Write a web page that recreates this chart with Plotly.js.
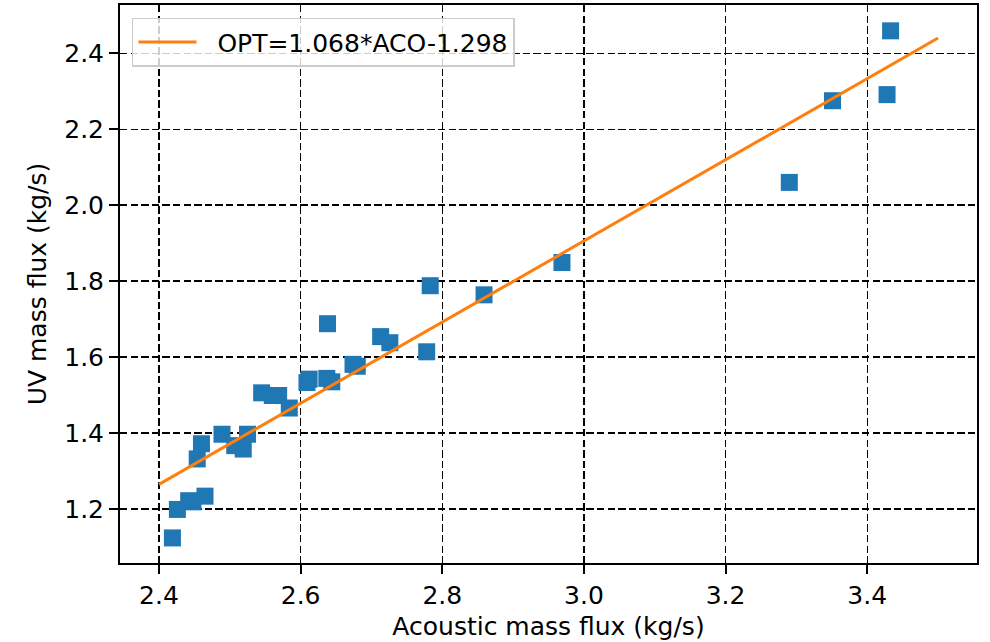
<!DOCTYPE html>
<html>
<head>
<meta charset="utf-8">
<script src="https://cdn.plot.ly/plotly-3.0.1.min.js"></script>
<style>html,body{margin:0;padding:0;background:#fff;}#chart{width:990px;height:642px;}</style>
</head>
<body>
<div id="chart"></div>
<script>
// Acoustic mass flux (kg/s) vs UV mass flux (kg/s)
const acousticFlux = [
  2.419, 2.426, 2.442, 2.448, 2.465,
  2.454, 2.460, 2.489, 2.507, 2.519, 2.525,
  2.545, 2.560, 2.569, 2.584,
  2.609, 2.612, 2.637, 2.644, 2.638,
  2.674, 2.680, 2.713, 2.726,
  2.778, 2.783, 2.859, 2.969,
  3.290, 3.351, 3.428, 3.433
];
const uvFlux = [
  1.124, 1.199, 1.222, 1.219, 1.234,
  1.332, 1.372, 1.397, 1.367, 1.358, 1.397,
  1.506, 1.499, 1.499, 1.466,
  1.533, 1.542, 1.544, 1.535, 1.688,
  1.581, 1.576, 1.654, 1.638,
  1.614, 1.788, 1.764, 1.849,
  2.060, 2.275, 2.291, 2.459
];
// Fitted line end points
const fitX = [2.4, 3.5];
const fitY = [1.265, 2.440];
const fitLabel = "OPT=1.068*ACO-1.298";
const xTicks = [2.4, 2.6, 2.8, 3.0, 3.2, 3.4];
const xTickText = ["2.4", "2.6", "2.8", "3.0", "3.2", "3.4"];
const yTicks = [1.2, 1.4, 1.6, 1.8, 2.0, 2.2, 2.4];
const yTickText = ["1.2", "1.4", "1.6", "1.8", "2.0", "2.2", "2.4"];

const font = {family: "DejaVu Sans", size: 25, color: "#000"};

const traces = [
  {
    x: acousticFlux, y: uvFlux, type: "scatter", mode: "markers",
    marker: {symbol: "square", size: 17, color: "#1f77b4", line: {width: 0}},
    showlegend: false, hoverinfo: "skip"
  },
  {
    x: fitX, y: fitY, type: "scatter", mode: "lines",
    line: {color: "#ff7f0e", width: 3},
    name: "\u00a0\u00a0" + fitLabel, showlegend: true
  }
];

const axisCommon = {
  showline: true, linecolor: "#000", linewidth: 2, mirror: true,
  ticks: "outside", ticklen: 9, tickwidth: 2, tickcolor: "#000",
  showgrid: true, gridcolor: "#000", gridwidth: 1.4, griddash: "7.4px,3.2px",
  zeroline: false, tickfont: font, automargin: false, tickmode: "array"
};

const layout = {
  width: 990, height: 642,
  margin: {l: 120, r: 13, t: 5, b: 79},
  paper_bgcolor: "#fff", plot_bgcolor: "#fff",
  font: font,
  xaxis: Object.assign({}, axisCommon, {
    range: [2.345, 3.555], tickvals: xTicks, ticktext: xTickText,
    title: {text: "Acoustic mass flux (kg/s)", font: font, standoff: 8}
  }),
  yaxis: Object.assign({}, axisCommon, {
    range: [1.058, 2.527], tickvals: yTicks, ticktext: yTickText,
    title: {text: "UV mass flux (kg/s)", font: font, standoff: 10}
  }),
  legend: {
    x: 0.014, y: 0.977, xanchor: "left", yanchor: "top",
    bgcolor: "rgba(255,255,255,0.8)", bordercolor: "#cccccc", borderwidth: 1.5,
    font: font, itemwidth: 58
  }
};

Plotly.newPlot("chart", traces, layout, {staticPlot: true, displayModeBar: false});
</script>
</body>
</html>
